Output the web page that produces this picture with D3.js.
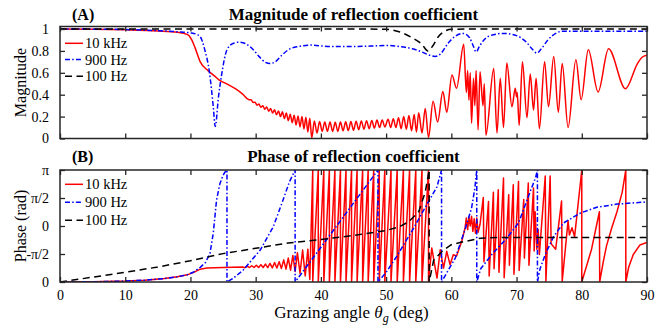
<!DOCTYPE html>
<html><head><meta charset="utf-8">
<script src="https://cdn.jsdelivr.net/npm/d3@7"></script>
<style>
body{margin:0;background:#fff;}
svg{display:block;}
text{font-family:"Liberation Serif","Times New Roman",serif;fill:#000;}
</style>
</head><body>
<svg id="chart" width="665" height="329"></svg>
<script>
// ---------- data ----------
const xTicks = [0,10,20,30,40,50,60,70,80,90];
const magTicks = [0,0.2,0.4,0.6,0.8,1];
const phaseTickValues = [-3.1416,-1.5708,0,1.5708,3.1416];
const phaseTickLabels = ["0","-π/2","0","π/2","π"];
const seriesNames = ["10 kHz","900 Hz","100 Hz"];
const seriesColors = ["#ff0000","#0000ff","#000000"];

// Magnitude, 10 kHz  [angle deg, |R|]
const mag10k = [[0,1.0],[5,0.998],[10,0.993],[15,0.983],[18,0.97],[19,0.96],[19.7,0.945],[20.2,0.9],[20.7,0.83],[21.5,0.7],[22.7,0.62],[24,0.555],[24.5,0.53],[25,0.515],[26,0.485],[27,0.45],[28,0.405],
[29.0,0.354],[29.3,0.354],[29.6,0.329],[29.9,0.332],[30.2,0.305],[30.5,0.315],[30.8,0.285],[31.1,0.30],[31.4,0.267],[31.7,0.287],[32.0,0.25],[32.3,0.274],[32.6,0.232],[32.9,0.262],[33.2,0.216],[33.5,0.252],[33.8,0.20],[34.1,0.244],[34.4,0.182],[34.7,0.233],[35.0,0.163],[35.3,0.222],[35.6,0.144],[35.9,0.213],[36.2,0.124],[36.5,0.206],[36.8,0.106],[37.1,0.20],[37.4,0.087],[37.7,0.194],[38.0,0.06],[38.3,0.184],[38.6,0.005],[39.0,0.16],
[39.4,0.05],[39.8,0.155],[40.2,0.065],[40.6,0.15],[41.0,0.065],[41.4,0.15],[41.8,0.065],[42.2,0.148],[42.6,0.065],[43.0,0.15],[43.4,0.07],[43.8,0.152],[44.2,0.072],[44.6,0.155],[45.0,0.075],[45.4,0.158],[45.8,0.08],[46.2,0.16],[46.6,0.085],[47.0,0.163],[47.4,0.09],[47.8,0.165],[48.2,0.095],[48.6,0.168],[49.0,0.10],[49.4,0.17],[49.8,0.105],[50.3,0.175],[50.7,0.10],[51.1,0.18],[51.5,0.10],[51.9,0.19],[52.3,0.09],[52.7,0.2],[53.1,0.085],[53.5,0.21],[53.9,0.07],[54.3,0.22],[54.65,0.06],[55.0,0.235],[55.5,0.05],[56.0,0.275],[56.5,0.01],[57.2,0.34],[57.9,0.15],[58.7,0.43],[59.3,0.24],[60.1,0.58],[60.8,0.46],[61.9,0.86],
[62.3,0.42],[62.5,0.62],[62.7,0.35],[62.9,0.6],[63.1,0.14],[63.4,0.55],[63.6,0.3],[63.8,0.62],[64.1,0.08],[64.4,0.61],[64.85,0.3],[65.05,0.5],[65.3,0.03],[66.5,0.64],[67.0,0.05],[67.5,0.55],[68.0,0.1],[68.5,0.69],[69.3,0.29],[69.8,0.46],[70.0,0.38],[70.1,0.42],[70.4,0.12],[70.9,0.70],[71.6,0.19],[72.1,0.59],[72.6,0.26],[73.0,0.55],[73.5,0.09],[74.3,0.70],[74.9,0.29],[75.7,0.75],[76.4,0.24],[77.0,0.685],[77.9,0.10],[79.1,0.72],[79.9,0.355],[81.0,0.81],[82.5,0.425],[84.1,0.82],[86.7,0.455],[88.5,0.68],[89.2,0.74],[90,0.76]];

// Magnitude, 900 Hz
const mag900 = [[0,1.0],[5,0.999],[10,0.995],[15,0.985],[18,0.975],[20,0.965],[21,0.95],[21.5,0.93],[22.2,0.81],[22.9,0.61],[23.5,0.29],[23.8,0.11],[24.3,0.38],[24.8,0.59],[25.6,0.81],[26.6,0.87],[27.5,0.88],[28.5,0.865],[29.5,0.82],[30.5,0.75],[31.5,0.695],[32.2,0.685],[33,0.7],[34,0.76],[35,0.81],[36.5,0.84],[38.5,0.853],[41.4,0.84],[45,0.84],[48,0.845],[50,0.85],[52,0.84],[54,0.82],[55.5,0.79],[56.7,0.76],[57.5,0.75],[58.3,0.77],[59.5,0.87],[60.5,0.93],[61.8,0.96],[62.8,0.92],[63.4,0.84],[63.8,0.79],[64.3,0.84],[65,0.9],[66,0.94],[68,0.96],[70,0.94],[71.5,0.88],[72.5,0.81],[73.1,0.78],[73.8,0.82],[74.8,0.9],[76,0.96],[77,0.98],[80,0.98],[90,0.98]];

// Magnitude, 100 Hz
const mag100 = [[0,1.0],[45,1.0],[50,0.998],[52,0.975],[54,0.92],[55.5,0.86],[56.4,0.80],[57.2,0.85],[58,0.93],[59,0.98],[60,0.998],[65,1.0],[90,1.0]];

// Phase (rad), 10 kHz
const ph10k = [[0,-3.1416],[5,-3.13],[10,-3.09],[13,-3.04],[16,-2.95],[18,-2.85],[19.5,-2.74],[20.5,-2.6],[21.5,-2.42],[22.5,-2.36],[25,-2.33],[28,-2.3],
[28.35,-2.34],[28.7,-2.25],[29.05,-2.33],[29.4,-2.23],[29.75,-2.33],[30.1,-2.2],[30.45,-2.33],[30.8,-2.17],[31.15,-2.33],[31.5,-2.14],[31.85,-2.34],[32.2,-2.1],[32.55,-2.35],[32.9,-2.05],[33.25,-2.36],[33.6,-2.0],[33.95,-2.38],[34.3,-1.9],[34.65,-2.42],[35.0,-1.8],[35.35,-2.48],[35.7,-1.65],[36.05,-2.55],[36.4,-1.5],[36.8,-2.65],[37.2,-1.35],[37.6,-2.8],[38.0,-1.3],[38.3,-3.0],
[38.75,3.1416],[38.75,-3.1416],[39.6,3.1416],[39.6,-3.1416],[40.45,3.1416],[40.45,-3.1416],[41.3,3.1416],[41.3,-3.1416],[42.15,3.1416],[42.15,-3.1416],[43.0,3.1416],[43.0,-3.1416],[43.85,3.1416],[43.85,-3.1416],[44.7,3.1416],[44.7,-3.1416],[45.55,3.1416],[45.55,-3.1416],[46.4,3.1416],[46.4,-3.1416],[47.25,3.1416],[47.25,-3.1416],[48.1,3.1416],[48.1,-3.1416],[48.95,3.1416],[48.95,-3.1416],[49.8,3.1416],[49.8,-3.1416],[50.75,3.1416],[50.75,-3.1416],[51.7,3.1416],[51.7,-3.1416],[52.65,3.1416],[52.65,-3.1416],[53.6,3.1416],[53.6,-3.1416],[54.55,3.1416],[54.55,-3.1416],[55.5,3.1416],[55.5,-3.1416],[56.5,3.1416],[56.5,-3.1],
[57.0,-1.23],[57.8,-2.92],[58.3,-1.33],[58.8,-2.36],[59.3,-1.42],[59.8,-2.17],[60.3,-1.61],[60.8,-1.68],[61.6,-0.86],[62.1,-0.11],[62.3,0.45],[62.5,-0.2],[62.7,0.5],[62.9,0.0],[63.1,0.55],[63.3,-0.3],[63.5,0.4],[63.7,-0.4],[63.9,0.45],[64.1,-0.35],[64.4,0.1],
[64.9,1.6],[65.0,-2.0],[65.7,1.38],[65.8,-2.8],[66.45,1.9],[66.55,-2.4],[67.2,2.04],[67.3,-2.6],[68.0,2.69],[68.1,-2.9],[68.8,1.76],[68.9,-2.2],[69.5,2.32],[69.6,-2.7],[70.3,2.5],[70.4,-2.5],[71.1,1.48],[71.2,-1.8],[71.8,2.41],[71.9,-2.2],[72.6,2.13],[72.7,-1.4],[72.85,0.8],[73.1,-1.3],[73.3,-0.2],[73.5,-1.6],
[74.4,2.8],[74.5,-3.1],[75.15,2.8],[75.3,-1.0],[76.0,-1.3],[76.9,1.4],[77.0,-3.1],[77.9,0.3],[78.1,-0.5],[78.5,-0.1],[78.9,-0.6],[80.0,3.1416],[80.0,-3.1416],[81.5,-1.3],[82.7,0.8],[82.75,-3.1416],[83.3,-2.0],[83.8,-1.1],[84.6,-0.1],[85.4,0.8],[86.2,1.9],[86.75,3.1416],[86.75,-3.1416],[87.2,-2.3],[87.9,-1.6],[88.9,-1.07],[90,-0.92]];

// Phase (rad), 900 Hz
const ph900 = [[0,-3.1416],[5,-3.13],[10,-3.09],[13,-3.04],[16,-2.95],[18,-2.85],[19.5,-2.74],[20.5,-2.58],[21.5,-2.32],[22.3,-2.05],[23,-1.53],[23.5,-0.4],[24,1.45],[24.5,2.35],[25,2.85],[25.4,3.08],[25.6,3.1416],[25.6,-3.1416],[26.5,-2.95],[28.1,-2.47],[30.7,-1.35],[32.7,-0.04],[34.2,1.46],[35.2,2.5],[36.05,3.1416],[36.05,-3.1416],[41.4,-0.5],[48.75,3.1416],[48.75,-3.1416],[50,-2.6],[51.6,-1.72],[54.2,-0.13],[56.2,1.18],[57.8,2.2],[58.5,3.1416],[58.5,-3.1416],[59.5,-2.5],[60.6,-1.8],[62.1,-0.2],[63.1,1.0],[63.6,2.1],[63.9,3.1416],[63.9,-3.1416],[64.5,-2.4],[66.2,-1.6],[68.3,-0.77],[70.3,0.17],[72.3,2.13],[72.9,2.69],[73.2,3.1416],[73.2,-3.1416],[73.6,-2.4],[74.4,-1.6],[75.7,-0.58],[77.2,0.17],[79.8,0.73],[82.3,1.05],[85.4,1.23],[90,1.35]];

// Phase (rad), 100 Hz
const ph100 = [[0,-3.1416],[5,-2.87],[10,-2.6],[15,-2.3],[20,-1.95],[25,-1.55],[30,-1.25],[35,-0.95],[40,-0.76],[45,-0.53],[50,-0.25],[52,-0.05],[53.5,0.25],[55,0.8],[56,1.9],[56.6,3.1416],[56.6,-3.1416],[57.3,-1.9],[58.8,-1.35],[60,-1.05],[61.9,-0.88],[64.4,-0.69],[67,-0.65],[90,-0.65]];

// ---------- layout ----------
const svg = d3.select("#chart");
const X0 = 60, X1 = 647;
const x = d3.scaleLinear().domain([0,90]).range([X0,X1]);
const panels = [
  {top:26.5, bottom:138.5, y:d3.scaleLinear().domain([0,1.023]).range([138.5,26.5]),
   ticks:magTicks, labels:magTicks.map(String), series:[mag10k,mag900,mag100],
   curve:d3.curveMonotoneX, tag:"(A)", title:"Magnitude of reflection coefficient",
   ylabel:"Magnitude", xlabels:false, legendY:[43.3,59.6,76.3], titleY:20}, 
  {top:170, bottom:282, y:d3.scaleLinear().domain([-3.1416,3.1416]).range([282,170]),
   ticks:phaseTickValues, labels:phaseTickLabels, series:[ph10k,ph900,ph100],
   curve:d3.curveLinear, tag:"(B)", title:"Phase of reflection coefficient",
   ylabel:"Phase (rad)", xlabels:true, legendY:[184.3,202.3,220.3], titleY:162}
];
const dashes = [null, "5,2.2,1.5,2.2", "7,4.5"];
const axisColor = "#262626";
const FONT = '"Liberation Serif","Times New Roman",serif';

panels.forEach((p,pi)=>{
  const g = svg.append("g");
  const clipId = "clip"+pi;
  svg.append("clipPath").attr("id",clipId).append("rect")
    .attr("x",X0).attr("y",p.top).attr("width",X1-X0).attr("height",p.bottom-p.top);

  const line = d3.line().x(d=>x(d[0])).y(d=>p.y(d[1])).curve(p.curve);
  const lg = g.append("g").attr("clip-path",`url(#${clipId})`);
  p.series.forEach((s,i)=>{
    lg.append("path").attr("d",line(s)).attr("fill","none")
      .attr("stroke",seriesColors[i]).attr("stroke-width",1.5)
      .attr("stroke-dasharray",dashes[i]).attr("stroke-linejoin","round");
  });

  const bottom = d3.axisBottom(x).tickValues(xTicks).tickSize(-5).tickPadding(8)
    .tickFormat(p.xlabels ? d3.format("d") : "");
  const top = d3.axisTop(x).tickValues(xTicks).tickSize(-5).tickFormat("");
  const left = d3.axisLeft(p.y).tickValues(p.ticks).tickSize(-5).tickPadding(11)
    .tickFormat((d,i)=>p.labels[i]);
  const right = d3.axisRight(p.y).tickValues(p.ticks).tickSize(-5).tickFormat("");
  const styleAxis = a => {
    a.attr("font-family",FONT);
    a.select(".domain").remove();
    a.selectAll(".tick line").attr("stroke",axisColor).attr("stroke-width",1.3);
    a.selectAll("text").attr("font-family",FONT).style("font-family",FONT)
      .style("font-size","14px").attr("fill","#262626");
  };
  g.append("g").attr("transform",`translate(0,${p.bottom})`).call(bottom).call(styleAxis);
  g.append("g").attr("transform",`translate(0,${p.top})`).call(top).call(styleAxis);
  g.append("g").attr("transform",`translate(${X0},0)`).call(left).call(styleAxis);
  g.append("g").attr("transform",`translate(${X1},0)`).call(right).call(styleAxis);
  g.append("rect").attr("x",X0).attr("y",p.top).attr("width",X1-X0).attr("height",p.bottom-p.top)
    .attr("fill","none").attr("stroke",axisColor).attr("stroke-width",1.5);

  g.append("text").attr("x",72).attr("y",p.titleY).attr("font-weight","bold")
    .attr("font-size","16px").text(p.tag);
  g.append("text").attr("x",(X0+X1)/2).attr("y",p.titleY).attr("text-anchor","middle")
    .attr("font-weight","bold").attr("font-size","17px").text(p.title);

  g.append("text").attr("transform",`translate(26,${(p.top+p.bottom)/2}) rotate(-90)`)
    .attr("text-anchor","middle").attr("font-size","16px").text(p.ylabel);

  seriesNames.forEach((n,i)=>{
    const ly = p.legendY[i];
    g.append("line").attr("x1",65).attr("x2",83).attr("y1",ly).attr("y2",ly)
      .attr("stroke",seriesColors[i]).attr("stroke-width",1.5).attr("stroke-dasharray",dashes[i]);
    g.append("text").attr("x",85).attr("y",ly).attr("dy","0.35em")
      .attr("font-size","14.5px").text(n);
  });
});

const xl = svg.append("text").attr("x",351.5).attr("y",318).attr("text-anchor","middle")
  .attr("font-size","17px");
xl.append("tspan").text("Grazing angle ");
xl.append("tspan").attr("font-style","italic").text("θ");
xl.append("tspan").attr("font-style","italic").attr("font-size","12px").attr("dy","4").text("g");
xl.append("tspan").attr("dy","-4").text(" (deg)");
</script>
</body></html>
